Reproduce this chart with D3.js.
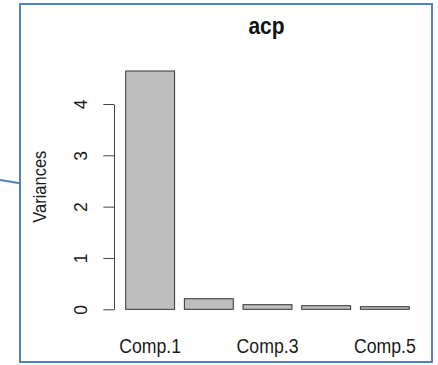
<!DOCTYPE html>
<html>
<head>
<meta charset="utf-8">
<script src="https://cdn.jsdelivr.net/npm/d3@7"></script>
<style>
  html, body { margin: 0; padding: 0; background: #fff; }
  svg { display: block; font-family: "Liberation Sans", Arial, sans-serif; }
</style>
</head>
<body>
<svg id="chart" width="438" height="365"></svg>
<script>
const categories = ["Comp.1", "Comp.2", "Comp.3", "Comp.4", "Comp.5"];
const variances = [4.643, 0.206, 0.090, 0.070, 0.050];
const shownLabels = ["Comp.1", "Comp.3", "Comp.5"];
const yTicks = [0, 1, 2, 3, 4];
const title = "acp";
const yTitle = "Variances";

const svg = d3.select("#chart");

// frame and connector
svg.append("line")
  .attr("x1", 0).attr("y1", 180).attr("x2", 20).attr("y2", 183.3)
  .attr("stroke", "#4f81bd").attr("stroke-width", 2);
svg.append("rect")
  .attr("x", 20).attr("y", 4).attr("width", 412).attr("height", 358)
  .attr("fill", "#fff").attr("stroke", "#4f81bd").attr("stroke-width", 2);

const x = d3.scaleBand()
  .domain(categories)
  .range([125.7, 409.3])
  .paddingInner(1 / 6)
  .paddingOuter(0);

const y = d3.scaleLinear()
  .domain([0, 4])
  .range([309.3, 104]);

// bars
svg.append("g")
  .selectAll("rect")
  .data(categories)
  .join("rect")
  .attr("x", d => x(d))
  .attr("width", x.bandwidth())
  .attr("y", (d, i) => y(variances[i]))
  .attr("height", (d, i) => y(0) - y(variances[i]))
  .attr("fill", "#bebebe")
  .attr("stroke", "#333")
  .attr("stroke-width", 1);

// y axis
const yAxis = svg.append("g")
  .attr("transform", "translate(114,0)")
  .call(d3.axisLeft(y).tickValues(yTicks).tickFormat(d3.format("d")).tickSize(10.7).tickSizeOuter(0));
yAxis.select(".domain").attr("stroke", "#444");
yAxis.selectAll(".tick line").attr("stroke", "#444");
yAxis.selectAll(".tick text")
  .attr("x", null).attr("dy", null)
  .attr("transform", "translate(-27.3,0) rotate(-90) scale(1,1.08)")
  .attr("text-anchor", "middle")
  .attr("fill", "#1a1a1a")
  .attr("font-size", 17.5)
  .attr("font-family", "'Liberation Sans', Arial, sans-serif");

// x labels
svg.append("g")
  .selectAll("text")
  .data(shownLabels)
  .join("text")
  .attr("transform", d => `translate(${x(d) + x.bandwidth() / 2},353) scale(1,1.15)`)
  .attr("text-anchor", "middle")
  .attr("font-size", 17.7)
  .attr("fill", "#1a1a1a")
  .text(d => d);

// title
svg.append("text")
  .attr("transform", "translate(266.5,34) scale(1,1.12)")
  .attr("text-anchor", "middle")
  .attr("font-size", 21)
  .attr("font-weight", "bold")
  .attr("fill", "#111")
  .text(title);

// y title
svg.append("text")
  .attr("transform", "translate(46,186.7) rotate(-90) scale(1,1.08)")
  .attr("text-anchor", "middle")
  .attr("font-size", 16.5)
  .attr("fill", "#1a1a1a")
  .text(yTitle);
</script>
</body>
</html>
